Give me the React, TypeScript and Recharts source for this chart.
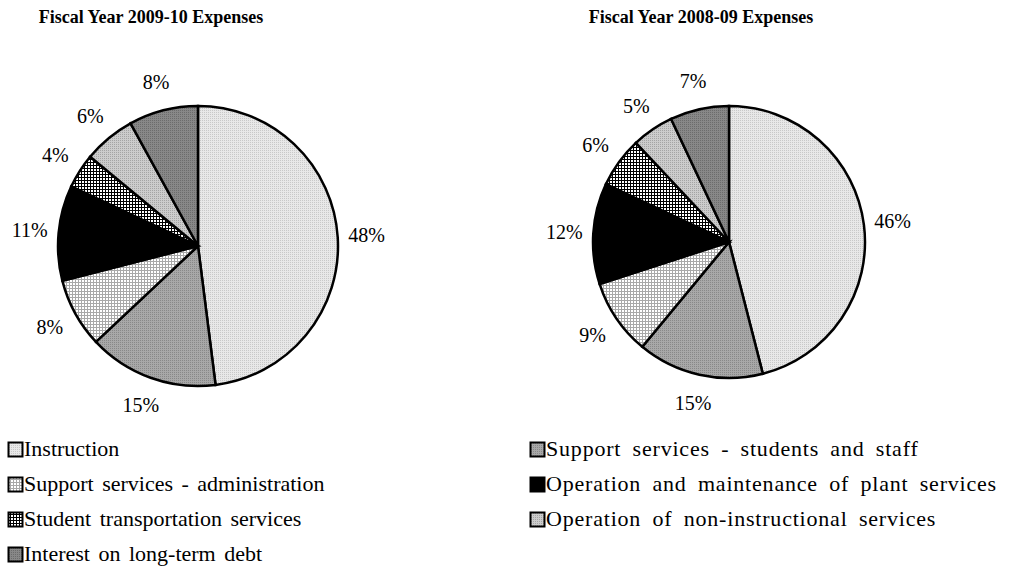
import React from 'react';
import { PieChart, Pie, Cell } from 'recharts';

const categories = [
  'Instruction',
  'Support services - students and staff',
  'Support services - administration',
  'Operation and maintenance of plant services',
  'Student transportation services',
  'Operation of non-instructional services',
  'Interest on long-term debt',
];

const fy0910 = [48, 15, 8, 11, 4, 6, 8];
const fy0809 = [46, 15, 9, 12, 6, 5, 7];

const fills = [
  'url(#pInstr)',
  'url(#pStudents)',
  'url(#pAdmin)',
  '#000000',
  'url(#pTransport)',
  'url(#pNonInstr)',
  'url(#pDebt)',
];

const FONT = '"Liberation Serif", "Times New Roman", serif';
const RAD = Math.PI / 180;

const toRows = (vals: number[]) => categories.map((name, i) => ({ name, value: vals[i] }));

const renderLabel = (props: any) => {
  const { cx, cy, midAngle, outerRadius, value } = props;
  const r = outerRadius + 29;
  const x = cx + r * Math.cos(-midAngle * RAD);
  const y = cy + r * Math.sin(-midAngle * RAD);
  return (
    <text x={x} y={y} textAnchor="middle" dominantBaseline="central"
      fontFamily={FONT} fontSize={20} fill="#000">
      {value}%
    </text>
  );
};

const Patterns = () => (
  <svg width={0} height={0} style={{ position: 'absolute' }}>
    <defs>
      <pattern id="pInstr" width={2} height={2} patternUnits="userSpaceOnUse">
        <rect width={2} height={2} fill="#e8e8e8" />
        <rect width={1} height={1} fill="#c8c8c8" />
      </pattern>
      <pattern id="pStudents" width={2} height={2} patternUnits="userSpaceOnUse">
        <rect width={2} height={2} fill="#a8a8a8" />
        <rect width={1} height={1} fill="#888888" />
      </pattern>
      <pattern id="pAdmin" width={3} height={3} patternUnits="userSpaceOnUse">
        <rect width={3} height={3} fill="#ffffff" />
        <rect width={3} height={1} fill="#a8a8a8" />
        <rect width={1} height={3} fill="#a8a8a8" />
      </pattern>
      <pattern id="pTransport" width={3} height={3} patternUnits="userSpaceOnUse">
        <rect width={3} height={3} fill="#ffffff" />
        <rect width={3} height={1} fill="#000000" />
        <rect width={1} height={3} fill="#000000" />
      </pattern>
      <pattern id="pNonInstr" width={2} height={2} patternUnits="userSpaceOnUse">
        <rect width={2} height={2} fill="#cccccc" />
        <rect width={1} height={1} fill="#a4a4a4" />
      </pattern>
      <pattern id="pDebt" width={2} height={2} patternUnits="userSpaceOnUse">
        <rect width={2} height={2} fill="#888888" />
        <rect width={1} height={1} fill="#6c6c6c" />
      </pattern>
    </defs>
  </svg>
);

const titleStyle: React.CSSProperties = {
  position: 'absolute',
  top: 7,
  width: 300,
  textAlign: 'center',
  fontFamily: FONT,
  fontWeight: 'bold',
  fontSize: 18,
  color: '#000',
};

const legendCols = [
  { width: 522, letterSpacing: 0, wordSpacing: 3 },
  { width: 486, letterSpacing: 0.8, wordSpacing: 5 },
];

export default function App() {
  return (
    <div style={{ position: 'absolute', left: 0, top: 0, width: 1016, height: 584, background: '#fff', fontFamily: FONT }}>
      <Patterns />
      <div style={{ ...titleStyle, left: 151 - 150 }}>Fiscal Year 2009-10 Expenses</div>
      <div style={{ ...titleStyle, left: 701 - 150 }}>Fiscal Year 2008-09 Expenses</div>
      <div style={{ position: 'absolute', left: 0, top: 0 }}>
        <PieChart width={1016} height={430} margin={{ top: 0, right: 0, bottom: 0, left: 0 }}>
          <Pie data={toRows(fy0910)} dataKey="value" nameKey="name" cx={198} cy={246} outerRadius={140}
            startAngle={90} endAngle={-270} stroke="#000" strokeWidth={2.5}
            label={renderLabel} labelLine={false} isAnimationActive={false}>
            {fy0910.map((_, i) => <Cell key={i} fill={fills[i]} />)}
          </Pie>
          <Pie data={toRows(fy0809)} dataKey="value" nameKey="name" cx={729} cy={242} outerRadius={136}
            startAngle={90} endAngle={-270} stroke="#000" strokeWidth={2.5}
            label={renderLabel} labelLine={false} isAnimationActive={false}>
            {fy0809.map((_, i) => <Cell key={i} fill={fills[i]} />)}
          </Pie>
        </PieChart>
      </div>
      <div style={{ position: 'absolute', left: 7, top: 438, display: 'grid', gridTemplateColumns: '522px 486px', rowGap: 13 }}>
        {categories.map((c, i) => {
          const col = legendCols[i % 2];
          return (
            <div key={c} style={{ display: 'flex', alignItems: 'center', height: 22, fontSize: 22, whiteSpace: 'nowrap',
              letterSpacing: col.letterSpacing, wordSpacing: col.wordSpacing }}>
              <svg width={17} height={17} style={{ marginRight: 0, flexShrink: 0 }}>
                <rect x={1.5} y={1.5} width={14} height={14} fill={fills[i]} stroke="#000" strokeWidth={2} />
              </svg>
              {c}
            </div>
          );
        })}
      </div>
    </div>
  );
}
